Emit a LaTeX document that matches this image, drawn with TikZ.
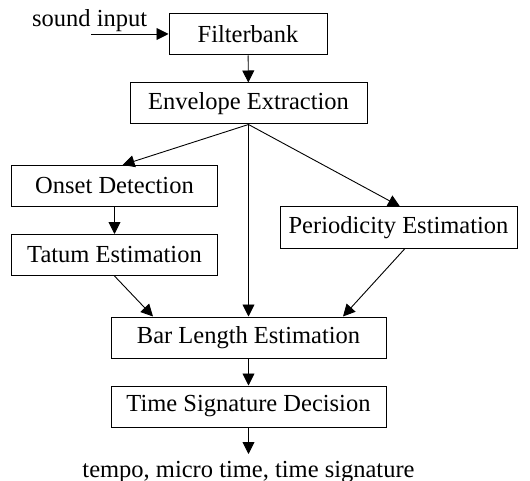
\documentclass[tikz,border=0pt]{standalone}
\usepackage{fontspec}
\setmainfont{Liberation Serif}
\usetikzlibrary{arrows.meta}

\begin{document}
\begin{tikzpicture}[x=1bp,y=-1bp,font=\fontsize{24.5bp}{29bp}\selectfont]
        \useasboundingbox (0,0) rectangle (530,481);

        \begin{scope}[every node/.style={rectangle,draw,line width=1bp,minimum height=41bp,inner sep=0pt}]
            \node[minimum width=158bp] (filter) at (248,34.5) {Filterbank};
            \node[minimum width=237bp] (env) at (248.5,103.5) {Envelope Extraction};
            \node[minimum width=205bp] (onset) at (114.5,186) {Onset Detection};
            \node[minimum width=205bp] (tatum) at (114.5,255) {Tatum Estimation};
            \node[minimum width=237bp] (period) at (398.5,227.5) {Periodicity Estimation};
            \node[minimum width=275bp] (bar) at (248.5,337.5) {Bar Length Estimation};
            \node[minimum width=275bp] (tsd) at (248.5,406.5) {Time Signature Decision};
        \end{scope}

        \node[anchor=base west,inner sep=0pt] (input) at (32,27) {sound input};
        \node[anchor=base,inner sep=0pt] (output) at (248.5,477) {tempo, micro time, time signature};
        \coordinate (in) at (91,34);
        \coordinate (out) at (248.5,454);

        \begin{scope}[every edge/.style={draw,line width=0.9bp,-{Triangle[length=12bp,width=12bp]}}]
            \path (in) edge (filter.west |- in);
            \path (filter) edge (env);
            \path (env.south) edge ([xshift=8bp]onset.north);
            \path (env.south) edge (bar.north);
            \path (env.south) edge ([xshift=1.5bp]period.north);
            \path (onset) edge (tatum);
            \path (tatum.south) edge ([xshift=-95.5bp]bar.north);
            \path ([xshift=6.5bp]period.south) edge ([xshift=94.5bp]bar.north);
            \path (bar) edge (tsd);
            \path (tsd.south) edge (out);
        \end{scope}
    \end{tikzpicture}
\end{document}
